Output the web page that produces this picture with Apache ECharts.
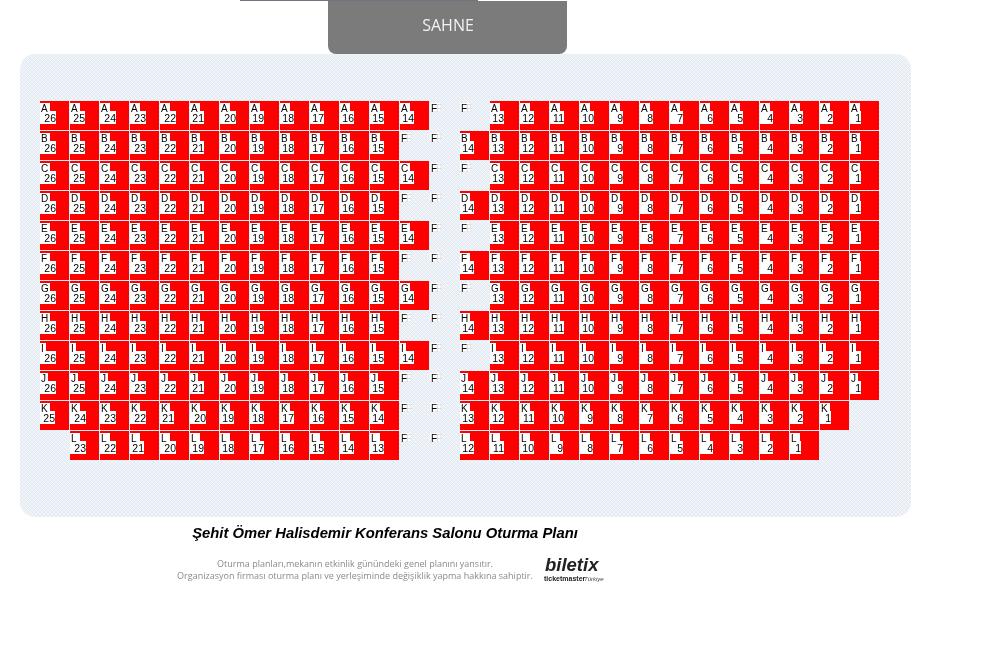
<!DOCTYPE html>
<html>
<head>
<meta charset="utf-8">
<title>Şehit Ömer Halisdemir Konferans Salonu Oturma Planı</title>
<script src="https://cdn.jsdelivr.net/npm/echarts@6/dist/echarts.min.js"></script>
<style>
    html, body {margin: 0; padding: 0; background: #fff;}
    #main {width: 986px; height: 648px;}
</style>
</head>
<body>
<div id="main"></div>
<script>
// rows of the hall, one entry per column. null = no seat, 'F' = aisle marker
var rowNames = ['A', 'B', 'C', 'D', 'E', 'F', 'G', 'H', 'I', 'J', 'K', 'L']
var rowOdd = [26, 25, 24, 23, 22, 21, 20, 19, 18, 17, 16, 15, 14, 'F', 'F', 13, 12, 11, 10, 9, 8, 7, 6, 5, 4, 3, 2, 1]
var rowEven = [26, 25, 24, 23, 22, 21, 20, 19, 18, 17, 16, 15, 'F', 'F', 14, 13, 12, 11, 10, 9, 8, 7, 6, 5, 4, 3, 2, 1]
var rowK = [25, 24, 23, 22, 21, 20, 19, 18, 17, 16, 15, 14, 'F', 'F', 13, 12, 11, 10, 9, 8, 7, 6, 5, 4, 3, 2, 1]
var rowL = [null, 23, 22, 21, 20, 19, 18, 17, 16, 15, 14, 13, 'F', 'F', 12, 11, 10, 9, 8, 7, 6, 5, 4, 3, 2, 1]
var rows = [rowOdd, rowEven, rowOdd, rowEven, rowOdd, rowEven, rowOdd, rowEven, rowOdd, rowEven, rowK, rowL]

var stageLabel = 'SAHNE'
var titleText = 'Şehit Ömer Halisdemir Konferans Salonu Oturma Planı'
var noteLines = ['Oturma planları,mekanın etkinlik günündeki genel planını yansıtır.',
    'Organizasyon firması oturma planı ve yerleşiminde değişiklik yapma hakkına sahiptir.']

var seats = []
for (var r = 0; r < rows.length; r++) {
    for (var c = 0; c < rows[r].length; c++) {
        if (rows[r][c] !== null) {
            seats.push({col: c, row: r, seat: rows[r][c]})
        }
    }
}

// the white box behind a seat number ends where the number ends
function numberWidth(seat) {
    if (seat == 1) return 11
    if (seat < 10) return 13
    if (seat < 20) return 14
    if (seat == 21) return 14
    if (seat == 25) return 15
    return 16
}

function letterWidth(letter) {
    if (letter == 'I') return 6
    if (letter == 'J') return 8
    return 10
}

function drawSeat(params, api) {
    var p = api.coord([api.value(0), api.value(1)])
    var size = api.size([1, 1])
    var item = seats[params.dataIndex]
    var letter = rowNames[item.row]
    var font = '10px "Liberation Sans", Arial, sans-serif'
    var numFont = '10.5px "Liberation Sans", Arial, sans-serif'
    var children = []
    if (item.seat !== 'F') {
        var w = numberWidth(item.seat)
        children.push({type: 'rect', shape: {x: p[0], y: p[1], width: size[0] - 1, height: size[1] - 1}, style: {fill: '#ff0000'}})
        children.push({type: 'rect', shape: {x: p[0], y: p[1] + 2, width: letterWidth(letter), height: 8}, style: {fill: '#fff'}})
        children.push({type: 'rect', shape: {x: p[0], y: p[1] + 10, width: w, height: 13}, style: {fill: '#fff'}})
        children.push({type: 'text', style: {text: letter, x: p[0] + 1, y: p[1] + 8, font: font, fill: '#000', textVerticalAlign: 'middle'}})
        children.push({type: 'text', style: {text: String(item.seat), x: p[0] + w, y: p[1] + 18, font: numFont, fill: '#000', textAlign: 'right', textVerticalAlign: 'middle'}})
    } else {
        children.push({type: 'rect', shape: {x: p[0], y: p[1] + 2, width: 10, height: 8}, style: {fill: '#fff'}})
        children.push({type: 'text', style: {text: 'F', x: p[0] + 6, y: p[1] + 8, font: font, fill: '#dcdcdc', textVerticalAlign: 'middle'}})
        children.push({type: 'text', style: {text: 'F', x: p[0] + 1, y: p[1] + 8, font: font, fill: '#000', textVerticalAlign: 'middle'}})
    }
    return {type: 'group', children: children}
}

// the panel in the picture is a dithered pale tint, rebuild that with a small tile
var tileColors = [
    ['#f4eaf6', '#e0f2f8', '#fafaf4', '#dfe8fa'],
    ['#e0f4ee', '#f4e8f4', '#e0eafa', '#fcfcfd'],
    ['#fcfcf8', '#dde9f9', '#f2e8f6', '#e0f4f4'],
    ['#e3e8fa', '#f8f9f2', '#dff2f6', '#f4eaf4']
]
var tile = document.createElement('canvas')
tile.width = 4
tile.height = 4
var tileCtx = tile.getContext('2d')
for (var ty = 0; ty < 4; ty++) {
    for (var tx = 0; tx < 4; tx++) {
        tileCtx.fillStyle = tileColors[ty][tx]
        tileCtx.fillRect(tx, ty, 1, 1)
    }
}

var myChart = echarts.init(document.getElementById('main'))
myChart.setOption({
    animation: false,
    backgroundColor: '#fff',
    grid: {left: 40, top: 101, width: 840, height: 360},
    xAxis: {type: 'value', min: 0, max: 28, show: false},
    yAxis: {type: 'value', min: 0, max: 12, inverse: true, show: false},
    graphic: [
        {type: 'rect', z: -10, shape: {x: 20, y: 54, width: 891, height: 463, r: 15}, style: {fill: {image: tile, repeat: 'repeat'}}},
        {type: 'rect', z: -9, shape: {x: 240, y: 0, width: 238, height: 1}, style: {fill: '#6f7580'}},
        {type: 'rect', z: -8, shape: {x: 328, y: 1, width: 239, height: 53, r: [0, 0, 8, 8]}, style: {fill: '#7b7b7b'}},
        {type: 'text', z: 5, style: {text: stageLabel, x: 448, y: 26, textAlign: 'center', textVerticalAlign: 'middle', font: '16px "Open Sans", sans-serif', fill: '#f2f2f2'}},
        {type: 'text', z: 5, style: {text: titleText, x: 385, y: 534, textAlign: 'center', textVerticalAlign: 'middle', font: 'italic bold 14.8px "Liberation Sans", Arial, sans-serif', fill: '#000'}},
        {type: 'text', z: 5, style: {text: noteLines[0], x: 355, y: 564, textAlign: 'center', textVerticalAlign: 'middle', font: '9px "Open Sans", sans-serif', fill: '#8a8a8a'}},
        {type: 'text', z: 5, style: {text: noteLines[1], x: 355, y: 576, textAlign: 'center', textVerticalAlign: 'middle', font: '9px "Open Sans", sans-serif', fill: '#8a8a8a'}},
        {type: 'text', z: 5, style: {text: 'biletix', x: 545, y: 566, textVerticalAlign: 'middle', font: 'italic bold 18.5px "Liberation Sans", Arial, sans-serif', fill: '#222'}},
        {type: 'text', z: 5, style: {text: 'ticketmaster', x: 544, y: 579, textVerticalAlign: 'middle', font: 'bold 7px "Liberation Sans", Arial, sans-serif', fill: '#222'}},
        {type: 'text', z: 5, style: {text: 'Türkiye', x: 584, y: 579, textVerticalAlign: 'middle', font: 'italic 6px "Liberation Sans", Arial, sans-serif', fill: '#444'}}
    ],
    series: [{
        type: 'custom',
        coordinateSystem: 'cartesian2d',
        renderItem: drawSeat,
        data: seats.map(function (s) {
            return [s.col, s.row]
        }),
        encode: {x: 0, y: 1},
        silent: true
    }]
})
</script>
</body>
</html>
